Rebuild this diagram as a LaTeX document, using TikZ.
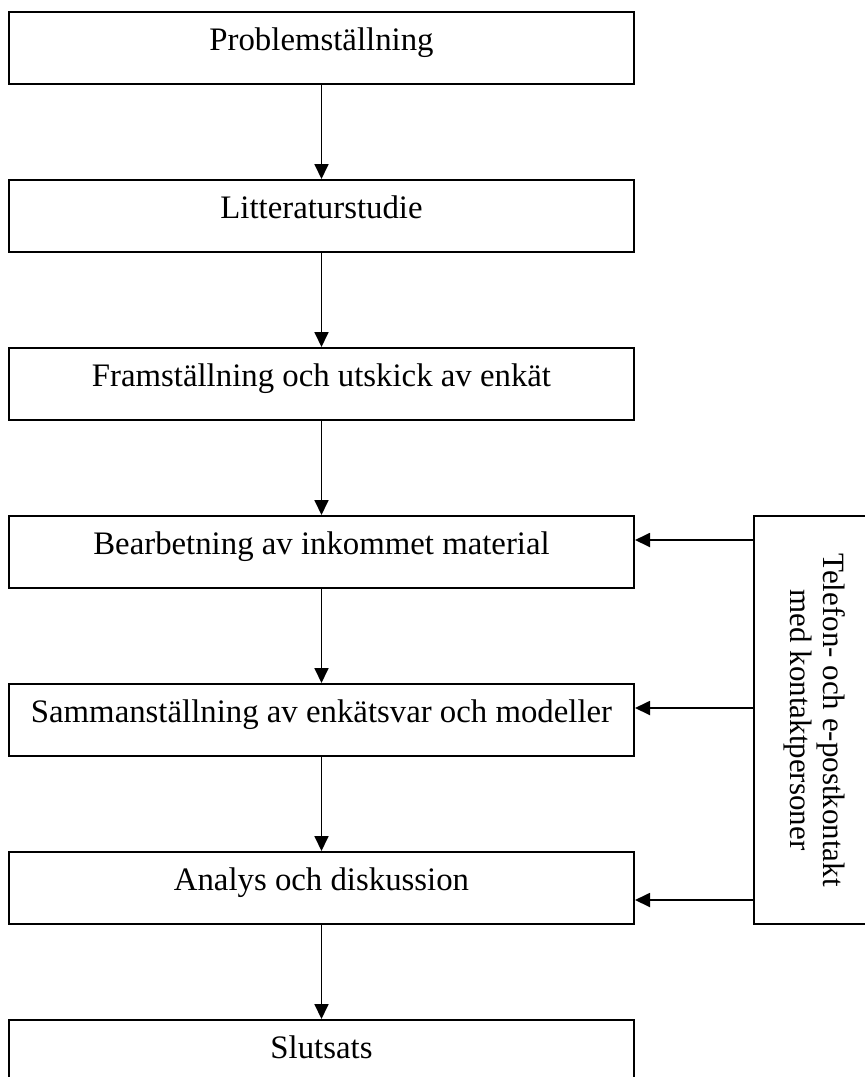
\documentclass[tikz,border=0pt]{standalone}
\usepackage{fontspec}
\setmainfont{Liberation Serif}
\usepackage{tikz}
\usetikzlibrary{positioning,arrows.meta}

\begin{document}
\begin{tikzpicture}[
				stage/.style={rectangle, draw=black, line width=1pt, minimum width=312.5pt, minimum height=36pt, font=\fontsize{16.4}{19}\selectfont, text height=11pt, text depth=9pt},
				side/.style={rectangle, draw=black, line width=1pt, minimum width=61pt, minimum height=204pt},
				node distance=47pt
			]
			\useasboundingbox (-160.75pt,24pt) rectangle ++(432pt,-538.5pt);
			\node[stage] (problem) at (0,0) {Problemställning};
			\node[stage] (litt) [below=of problem] {Litteraturstudie};
			\node[stage] (enkat) [below=of litt] {Framställning och utskick av enkät};
			\node[stage] (bearb) [below=of enkat] {Bearbetning av inkommet material};
			\node[stage] (samman) [below=of bearb] {Sammanställning av enkätsvar och modeller};
			\node[stage] (analys) [below=of samman] {Analys och diskussion};
			\node[stage] (slut) [below=of analys] {Slutsats};
			\node[side] (kontakt) [right=59pt of samman] {};
			\node[rotate=-90, align=center, font=\fontsize{15.5}{16.5}\selectfont] (kontakttext) at (kontakt.center) {Telefon- och e-postkontakt\\med kontaktpersoner};
			\coordinate (k1) at ([yshift=90pt]kontakt.west);
			\coordinate (k2) at ([yshift=6pt]kontakt.west);
			\coordinate (k3) at ([yshift=-90pt]kontakt.west);
			\begin{scope}[line width=0.9pt, -{Triangle[length=7.5pt,width=7pt]}]
			\draw (problem.south) -- (litt.north);
			\draw (litt.south) -- (enkat.north);
			\draw (enkat.south) -- (bearb.north);
			\draw (bearb.south) -- (samman.north);
			\draw (samman.south) -- (analys.north);
			\draw (analys.south) -- (slut.north);
			\draw (k1) -- (k1 -| bearb.east);
			\draw (k2) -- (k2 -| samman.east);
			\draw (k3) -- (k3 -| analys.east);
			\end{scope}
			\end{tikzpicture}
\end{document}
